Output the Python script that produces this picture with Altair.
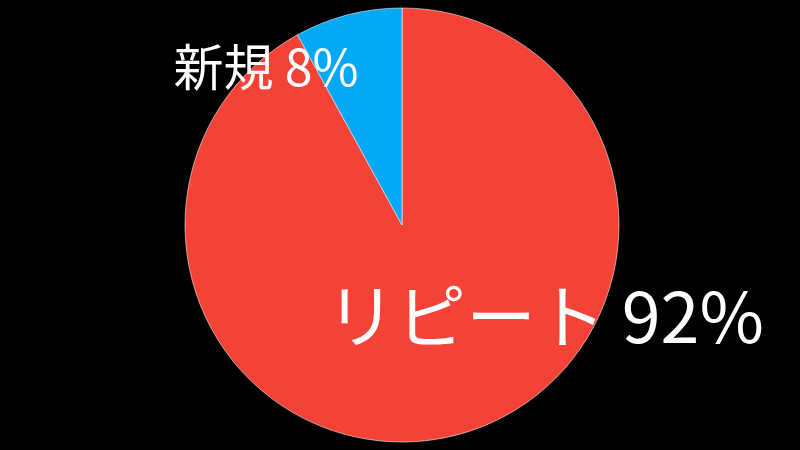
import altair as alt
import pandas as pd

categories = ["リピート", "新規"]
values = [92, 8]
colors = ["#F44336", "#03A9F4"]
label_texts = ["リピート 92%", "新規 8%"]

df = pd.DataFrame({"cat": categories, "val": values, "ord": [0, 1], "label": label_texts})

pie = alt.Chart(df).mark_arc(outerRadius=217, stroke="white", strokeWidth=0.7, strokeOpacity=0.8).encode(
    theta=alt.Theta("val:Q", stack=True),
    color=alt.Color("cat:N", scale=alt.Scale(domain=categories, range=colors), legend=None),
    order=alt.Order("ord:Q"),
    x=alt.value(402),
    y=alt.value(225),
)

font = "Noto Sans CJK JP"
big = alt.Chart(df).transform_filter(alt.datum.cat == "リピート").mark_text(
    font=font, fontSize=70, color="white", align="center", baseline="alphabetic"
).encode(text="label:N", x=alt.value(545), y=alt.value(343))

small = alt.Chart(df).transform_filter(alt.datum.cat == "新規").mark_text(
    font=font, fontSize=50, color="white", align="center", baseline="alphabetic"
).encode(text="label:N", x=alt.value(266), y=alt.value(86))

chart = alt.layer(pie, big, small).properties(
    width=800, height=450, background="black",
    autosize=alt.AutoSizeParams(type="none"), padding=0,
).configure_view(stroke=None)

chart.save("out.html", embed_options={"renderer": "svg", "actions": False})
